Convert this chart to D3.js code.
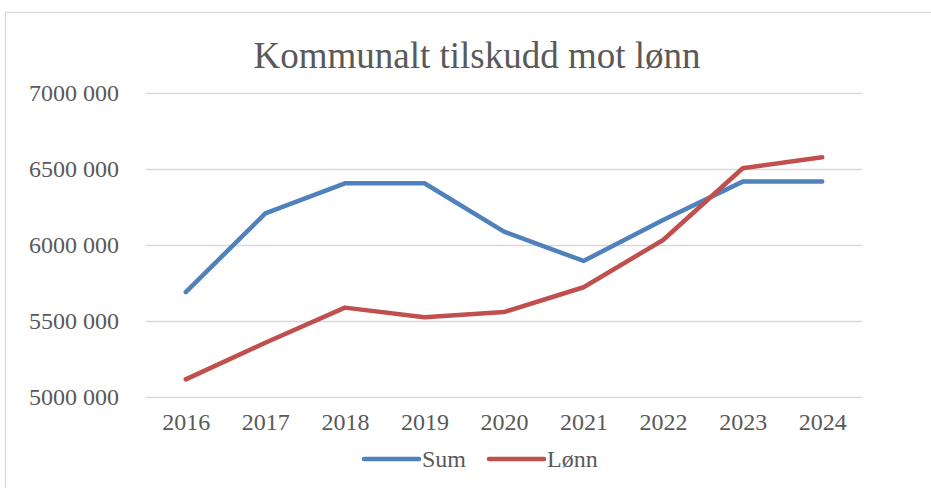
<!DOCTYPE html>
<html>
<head>
<meta charset="utf-8">
<script src="https://cdn.jsdelivr.net/npm/d3@7"></script>
<style>
  body { margin: 0; background: #fff; }
  svg { display: block; }
</style>
</head>
<body>
<svg width="931" height="488"></svg>
<script>
const years = ['2016', '2017', '2018', '2019', '2020', '2021', '2022', '2023', '2024'];
const sum = [5690000, 6208000, 6406000, 6406000, 6088000, 5895000, 6164000, 6417000, 6417000];
const lonn = [5116000, 5357000, 5588000, 5524000, 5559000, 5722000, 6033000, 6505000, 6577000];
const yTicks = [5000000, 5500000, 6000000, 6500000, 7000000];
const yTickLabels = ['5000 000', '5500 000', '6000 000', '6500 000', '7000 000'];
const seriesNames = ['Sum', 'Lønn'];
const seriesColors = ['#4F81BD', '#C0504D'];

const svg = d3.select('svg');
const font = '"Liberation Serif", "Times New Roman", serif';

// chart area border (only left and top show in the frame)
svg.append('rect')
    .attr('x', 5.5)
    .attr('y', 12.5)
    .attr('width', 1000)
    .attr('height', 1000)
    .attr('fill', 'none')
    .attr('stroke', '#D9D9D9')
    .attr('stroke-width', 1.2);

const plotLeft = 146, plotRight = 862, plotTop = 93, plotBottom = 397;

const xScale = d3.scalePoint()
    .domain(years)
    .range([plotLeft, plotRight])
    .padding(0.5);

const yScale = d3.scaleLinear()
    .domain([5000000, 7000000])
    .range([plotBottom, plotTop]);

// grid lines + y labels
const yAxis = svg.append('g')
    .attr('transform', `translate(${plotLeft}, 0)`)
    .call(d3.axisLeft(yScale)
        .tickValues(yTicks)
        .tickSize(-(plotRight - plotLeft))
        .tickPadding(27)
        .tickFormat((d, i) => yTickLabels[i]));
yAxis.select('.domain').remove();
yAxis.selectAll('.tick line')
    .attr('stroke', '#D9D9D9')
    .attr('stroke-width', 1.6);
yAxis.selectAll('.tick text')
    .style('font-family', font)
    .style('font-size', '24px')
    .attr('fill', '#595959');

// x labels
const xAxis = svg.append('g')
    .attr('transform', `translate(0, ${plotBottom})`)
    .call(d3.axisBottom(xScale).tickSize(0).tickPadding(16));
xAxis.select('.domain').remove();
xAxis.selectAll('.tick text')
    .style('font-family', font)
    .style('font-size', '24px')
    .attr('fill', '#595959');

// lines
const line = d3.line()
    .x((d, i) => xScale(years[i]))
    .y((d) => yScale(d));

[sum, lonn].forEach((values, k) => {
    svg.append('path')
        .datum(values)
        .attr('d', line)
        .attr('fill', 'none')
        .attr('stroke', seriesColors[k])
        .attr('stroke-width', 4.5)
        .attr('stroke-linejoin', 'round')
        .attr('stroke-linecap', 'round');
});

// title
svg.append('text')
    .attr('x', 477)
    .attr('y', 68)
    .attr('text-anchor', 'middle')
    .style('font-family', font)
    .style('font-size', '37px')
    .attr('fill', '#595959')
    .text('Kommunalt tilskudd mot lønn');

// legend
const legendX = [364, 489];
const legend = svg.selectAll('.legend')
    .data(seriesNames)
    .enter()
    .append('g')
    .attr('class', 'legend')
    .attr('transform', (d, i) => `translate(${legendX[i]}, 459)`);

legend.append('line')
    .attr('x1', 0)
    .attr('x2', 55)
    .attr('stroke', (d, i) => seriesColors[i])
    .attr('stroke-width', 4.5)
    .attr('stroke-linecap', 'round');

legend.append('text')
    .attr('x', 58)
    .attr('y', 8)
    .style('font-family', font)
    .style('font-size', '24px')
    .attr('fill', '#595959')
    .text((d) => d);
</script>
</body>
</html>
